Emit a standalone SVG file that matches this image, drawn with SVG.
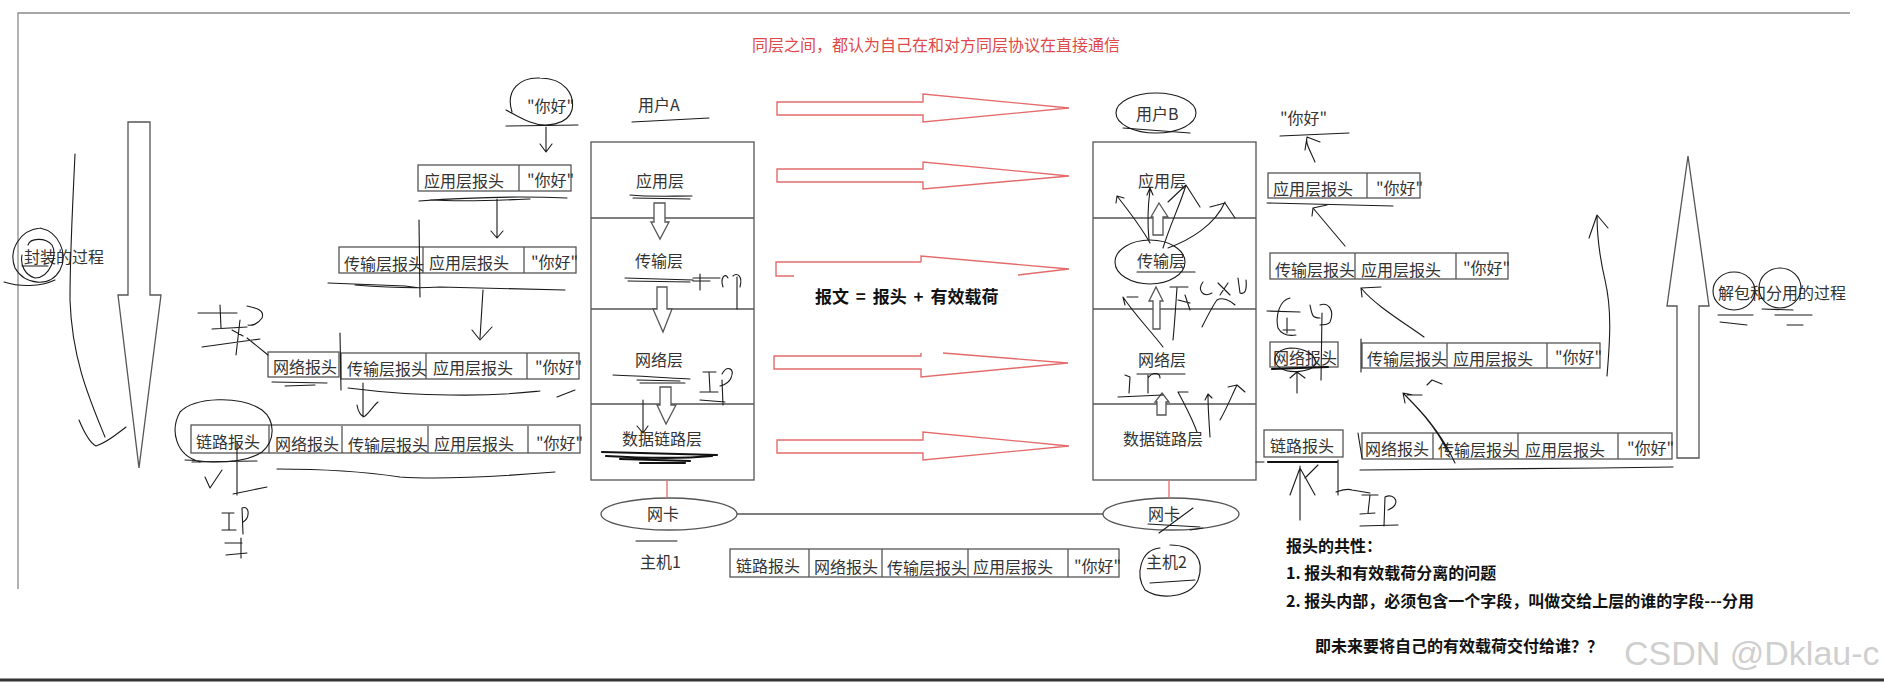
<svg xmlns="http://www.w3.org/2000/svg" width="1884" height="686" viewBox="0 0 1884 686">
<defs>
<style>
.t{font-family:"Noto Sans CJK SC","Microsoft YaHei",sans-serif;font-size:16px;fill:#333}
.bd{font-weight:bold;fill:#111}
.big{font-size:17px;word-spacing:3px}
.red{fill:#e04a4a}
.box{fill:none;stroke:#555;stroke-width:1.3}
.hl{fill:none;stroke:#555;stroke-width:1.3}
.ra{fill:none;stroke:#e46b6b;stroke-width:1.4}
.sc{fill:none;stroke:#1a1a1a;stroke-width:1.1;stroke-linecap:round;stroke-linejoin:round}
.thk{fill:none;stroke:#111;stroke-width:2.2;stroke-linecap:round}
.ha{fill:#fff;stroke:#555;stroke-width:1.3}
.wm{font-family:"Liberation Sans",Arial,sans-serif;font-size:34px;fill:#cfcfcf}
</style>
</defs>
<rect x="0" y="0" width="1884" height="686" fill="#fff"/>
<polyline points="18,589 18,13 1850,13" fill="none" stroke="#8a8a8a" stroke-width="1.3"/>
<line x1="0" y1="680" x2="1884" y2="680" stroke="#333" stroke-width="3"/>

<text class="t red" x="752" y="51">同层之间，都认为自己在和对方同层协议在直接通信</text>

<!-- Host A -->
<g id="hostA">
<rect class="box" x="591" y="142" width="163" height="338"/>
<line class="hl" x1="591" y1="218" x2="754" y2="218"/>
<line class="hl" x1="591" y1="309" x2="754" y2="309"/>
<line class="hl" x1="591" y1="404" x2="754" y2="404"/>
<text class="t" x="636" y="187">应用层</text>
<text class="t" x="635" y="267">传输层</text>
<text class="t" x="635" y="366">网络层</text>
<text class="t" x="622" y="445">数据链路层</text>
<path class="ha" d="M654,203 H665 V222 H669 L660,239 L651,222 H654 Z"/>
<path class="ha" d="M657,287 H667 V309 H672 L663,332 L653,309 H657 Z"/>
<path class="ha" d="M660,387 H671 V405 H676 L666,424 L657,405 H660 Z"/>
</g>
<g id="userA"><text class="t" x="638" y="111">用户A</text></g>

<!-- Host B -->
<g id="hostB">
<rect class="box" x="1093" y="142" width="163" height="338"/>
<line class="hl" x1="1093" y1="218" x2="1256" y2="218"/>
<line class="hl" x1="1093" y1="309" x2="1256" y2="309"/>
<line class="hl" x1="1093" y1="404" x2="1256" y2="404"/>
<text class="t" x="1138" y="187">应用层</text>
<text class="t" x="1137" y="267">传输层</text>
<text class="t" x="1138" y="366">网络层</text>
<text class="t" x="1123" y="445">数据链路层</text>
<path class="ha" d="M1159,203 L1168,217 H1163 V235 H1153 V217 H1151 Z"/>
<path class="ha" d="M1156,287 L1163,301 H1160 V329 H1153 V301 H1149 Z"/>
<path class="ha" d="M1162,393 L1169,402 H1166 V415 H1157 V402 H1155 Z"/>
</g>
<g id="userB">
<ellipse cx="1156" cy="113" rx="40" ry="20" class="sc"/>
<text class="t" x="1136" y="120">用户B</text>
</g>

<!-- NICs -->
<g id="nicA">
<ellipse class="box" cx="669" cy="514" rx="68" ry="16"/>
<text class="t" x="647" y="520">网卡</text>
<text class="t" x="640" y="568">主机1</text>
</g>
<g id="nicB">
<ellipse class="box" cx="1171" cy="514" rx="68" ry="16"/>
<text class="t" x="1148" y="520">网卡</text>
<text class="t" x="1146" y="568">主机2</text>
</g>

<!-- left packets -->
<g id="hello1"><text class="t" x="527" y="112">"你好"</text></g>
<g id="pA1">
<rect class="box" x="418" y="165" width="153" height="26"/>
<line class="hl" x1="519" y1="165" x2="519" y2="191"/>
<text class="t" x="424" y="187">应用层报头</text>
<text class="t" x="527" y="186">"你好"</text>
</g>
<g id="pA2">
<rect class="box" x="339" y="247" width="237" height="26"/>
<line class="hl" x1="423" y1="247" x2="423" y2="273"/>
<line class="hl" x1="524" y1="247" x2="524" y2="273"/>
<text class="t" x="344" y="270">传输层报头</text>
<text class="t" x="429" y="269">应用层报头</text>
<text class="t" x="531" y="268">"你好"</text>
</g>
<g id="pA3">
<rect class="box" x="268" y="352" width="71" height="25"/>
<rect class="box" x="341" y="353" width="238" height="26"/>
<line class="hl" x1="426" y1="353" x2="426" y2="379"/>
<line class="hl" x1="527" y1="353" x2="527" y2="379"/>
<text class="t" x="273" y="373">网络报头</text>
<text class="t" x="347" y="375">传输层报头</text>
<text class="t" x="433" y="374">应用层报头</text>
<text class="t" x="535" y="373">"你好"</text>
</g>
<g id="pA4">
<rect class="box" x="191" y="425" width="389" height="28"/>
<line class="hl" x1="269" y1="425" x2="269" y2="453"/>
<line class="hl" x1="342" y1="426" x2="342" y2="453"/>
<line class="hl" x1="428" y1="426" x2="428" y2="453"/>
<line class="hl" x1="528" y1="426" x2="528" y2="453"/>
<text class="t" x="196" y="448">链路报头</text>
<text class="t" x="275" y="450">网络报头</text>
<text class="t" x="348" y="451">传输层报头</text>
<text class="t" x="434" y="450">应用层报头</text>
<text class="t" x="536" y="449">"你好"</text>
</g>
<g id="pWire">
<rect class="box" x="730" y="549" width="389" height="28"/>
<line class="hl" x1="809" y1="549" x2="809" y2="577"/>
<line class="hl" x1="882" y1="549" x2="882" y2="577"/>
<line class="hl" x1="968" y1="549" x2="968" y2="577"/>
<line class="hl" x1="1068" y1="549" x2="1068" y2="577"/>
<text class="t" x="736" y="572">链路报头</text>
<text class="t" x="814" y="573">网络报头</text>
<text class="t" x="887" y="574">传输层报头</text>
<text class="t" x="973" y="573">应用层报头</text>
<text class="t" x="1074" y="572">"你好"</text>
</g>

<!-- right packets -->
<g id="hello2"><text class="t" x="1280" y="124">"你好"</text></g>
<g id="pB1">
<rect class="box" x="1268" y="173" width="152" height="25"/>
<line class="hl" x1="1367" y1="173" x2="1367" y2="198"/>
<text class="t" x="1273" y="195">应用层报头</text>
<text class="t" x="1376" y="194">"你好"</text>
</g>
<g id="pB2">
<rect class="box" x="1270" y="253" width="238" height="26"/>
<line class="hl" x1="1355" y1="253" x2="1355" y2="279"/>
<line class="hl" x1="1456" y1="253" x2="1456" y2="279"/>
<text class="t" x="1275" y="276">传输层报头</text>
<text class="t" x="1361" y="276">应用层报头</text>
<text class="t" x="1463" y="274">"你好"</text>
</g>
<g id="pB3a">
<rect class="box" x="1270" y="342" width="68" height="25"/>
<text class="t" x="1273" y="364">网络报头</text>
</g>
<g id="pB3b">
<rect class="box" x="1362" y="343" width="238" height="25"/>
<line class="hl" x1="1447" y1="343" x2="1447" y2="368"/>
<line class="hl" x1="1547" y1="343" x2="1547" y2="368"/>
<text class="t" x="1367" y="365">传输层报头</text>
<text class="t" x="1453" y="365">应用层报头</text>
<text class="t" x="1555" y="363">"你好"</text>
</g>
<g id="pB4a">
<rect class="box" x="1264" y="430" width="79" height="27"/>
<text class="t" x="1270" y="452">链路报头</text>
</g>
<g id="pB4b">
<rect class="box" x="1362" y="433" width="310" height="26"/>
<line class="hl" x1="1433" y1="433" x2="1433" y2="459"/>
<line class="hl" x1="1518" y1="433" x2="1518" y2="459"/>
<line class="hl" x1="1618" y1="433" x2="1618" y2="459"/>
<text class="t" x="1365" y="455">网络报头</text>
<text class="t" x="1438" y="456">传输层报头</text>
<text class="t" x="1525" y="456">应用层报头</text>
<text class="t" x="1627" y="454">"你好"</text>
</g>

<!-- big arrows and labels -->
<g id="encap">
<path class="hl" d="M128,122 H150 V295 H161 L139,468 L118,295 H128 Z"/>
<text class="t" x="24" y="263">封装的过程</text>
</g>
<g id="decap">
<path class="hl" d="M1688,156 L1709,306 H1699 V458 H1677 V306 H1667 Z"/>
<text class="t" x="1718" y="299">解包和分用的过程</text>
</g>
<g id="msg"><text class="t bd big" x="815" y="303">报文 = 报头 + 有效载荷</text></g>
<g id="notes">
<text class="t bd" x="1286" y="552">报头的共性：</text>
<text class="t bd" x="1286" y="579">1. 报头和有效载荷分离的问题</text>
<text class="t bd" x="1286" y="607">2. 报头内部，必须包含一个字段，叫做交给上层的谁的字段---分用</text>
<text class="t bd" x="1315" y="652">即未来要将自己的有效载荷交付给谁？？</text>
</g>
<text class="wm" x="1624" y="665">CSDN @Dklau-c</text>

<!-- connectors -->
<g id="connectors">
<line x1="667" y1="480" x2="667" y2="498" stroke="#e46b6b" stroke-width="1.3"/>
<line x1="1169" y1="480" x2="1169" y2="498" stroke="#e46b6b" stroke-width="1.3"/>
<line class="hl" x1="737" y1="514" x2="1103" y2="514"/>
<!-- red peer arrows -->
<path class="ra" d="M777,102 H923 V94 L1069,108 L923,122 V115 H777 Z"/>
<path class="ra" d="M777,169 H923 V162 L1069,176 L923,189 V182 H777 Z"/>
<path class="ra" d="M921,262 H776 V276 H794 M921,262 V256 L1069,269 L1018,275"/>
<path class="ra" d="M943,353 L1068,363 L921,377 V369 H774 V356 H921 V353"/>
<path class="ra" d="M777,440 H923 V432 L1069,446 L923,460 V453 H777 Z"/>
<!-- left flow -->
<path class="sc" d="M512,112 C505,90 520,77 540,78 C565,78 575,95 572,110 C568,125 545,128 530,122 C520,118 512,113 506,110"/>
<path class="sc" d="M506,126 L578,125"/>
<path class="sc" d="M546,127 L546,151 M540,144 L546,152 L552,144"/>
<path class="sc" d="M419,201 C460,198 520,196 567,198 M430,200 C470,202 500,200 530,199"/>
<path class="sc" d="M497,199 L497,237 M491,231 L497,238 L503,231"/>
<path class="sc" d="M419,220 L420,297"/>
<path class="sc" d="M328,283 L405,286 L420,288 M355,285 C380,287 410,289 440,287 L565,290"/>
<path class="sc" d="M483,290 C482,305 481,320 480,338 M472,330 L480,340 L492,327"/>
<path class="sc" d="M340,333 L341,390"/>
<path class="sc" d="M272,382 L327,383 M285,386 L315,385"/>
<path class="sc" d="M348,388 C380,392 420,395 450,395 C500,396 530,392 540,391 M557,397 L575,390"/>
<path class="sc" d="M363,383 L363,417 M357,405 C358,412 362,418 365,416 C370,412 374,405 378,402"/>
<path class="sc" d="M277,469 C320,469 360,471 400,477 C430,479 480,478 555,472"/>
<path class="sc" d="M200,462 C175,455 170,430 180,412 C195,397 240,395 262,410 C275,420 276,440 262,452 C250,460 230,462 215,462 C205,462 195,460 185,460"/>
<path class="sc" d="M192,462 L257,461 M237,443 L237,495 M233,494 L267,487 M205,477 L210,488 L222,470"/>
<path class="sc" d="M222,513 L234,513 M229,513 L229,530 M222,530 L236,530 M242,508 L243,534 M242,508 C250,505 250,518 243,522 M225,543 L242,543 M226,555 L247,553 M241,538 L241,558"/>
<path class="sc" d="M198,313 L237,313 M220,305 L221,328 M212,329 L247,327 M247,306 C256,308 265,310 262,318 C258,324 252,326 248,325 M240,320 L236,355 M202,347 L260,339 M247,338 L268,355 M232,330 L243,336"/>
<path class="sc" d="M75,154 C73,200 70,250 70,300 C72,360 90,400 105,437 M79,420 C84,432 90,443 96,446 C108,442 118,433 126,427"/>
<path class="sc" d="M40,228 C20,230 8,250 15,268 C25,285 50,288 60,270 C68,255 60,232 40,228 M28,245 C30,238 45,237 52,245 C58,255 50,278 35,278 C25,275 20,265 22,255 M4,282 C20,287 40,287 55,280 M22,266 L48,266"/>
<!-- host A marks -->
<path class="sc" d="M632,122 L709,118"/>
<path class="sc" d="M630,195 C650,197 670,196 692,196 M633,198 L690,199"/>
<path class="sc" d="M625,278 L693,280 M628,281 L690,282 M693,278 L720,278 M700,274 L700,290 M693,281 L710,281 M723,287 C720,278 725,272 728,278 M733,276 C737,272 743,276 740,287 M737,277 L737,309"/>
<path class="sc" d="M613,375 C640,376 670,378 690,379 M637,380 L680,381 M640,383 L685,383"/>
<path class="sc" d="M703,372 L716,372 M709,372 L710,391 M700,392 L718,392 M722,374 C727,365 735,368 731,378 C729,383 724,385 720,386 M722,380 L723,405 M700,400 L725,402"/>
<path class="sc" d="M643,400 L643,432 M637,426 L643,433 L648,426"/>
<path class="thk" d="M602,452 L717,455 M606,456 C640,458 680,459 712,456 M620,459 L690,461 M640,463 L685,463"/>
<path class="sc" d="M636,541 L677,541"/>
<!-- host B marks -->
<path class="sc" d="M1123,128 L1190,133"/>
<path class="sc" d="M1150,243 C1140,225 1128,210 1117,196 M1116,203 L1117,196 L1124,198"/>
<path class="sc" d="M1149,240 C1147,220 1148,205 1150,190 M1147,195 L1150,188 L1153,195"/>
<path class="sc" d="M1163,248 C1170,225 1180,205 1186,185 M1168,202 L1186,185 L1200,207"/>
<path class="sc" d="M1168,248 C1190,240 1215,225 1225,202 M1210,207 L1225,203 L1235,218"/>
<ellipse class="sc" cx="1150" cy="262" rx="35" ry="22"/>
<path class="sc" d="M1137,272 L1195,272"/>
<path class="sc" d="M1163,347 C1150,330 1135,315 1123,297 M1123,297 L1125,305 M1127,297 L1138,297"/>
<path class="sc" d="M1173,340 C1175,320 1176,300 1177,288 M1170,287 L1188,287 M1178,300 L1190,303 M1185,295 L1190,310"/>
<path class="sc" d="M1202,327 C1208,315 1213,305 1217,300 C1222,297 1230,300 1235,305"/>
<path class="sc" d="M1203,282 C1197,290 1203,298 1212,293 M1218,283 L1230,295 M1228,283 L1220,295 M1238,278 L1240,293 C1245,295 1247,290 1246,280"/>
<path class="sc" d="M1137,374 L1185,374"/>
<path class="sc" d="M1118,397 L1163,395 M1125,375 L1130,377 L1129,393 M1148,375 L1148,393 M1148,378 C1152,372 1160,372 1160,378"/>
<path class="sc" d="M1197,432 C1192,418 1185,405 1178,392 M1178,392 L1188,392 M1210,437 C1209,420 1208,410 1208,395 M1205,400 L1208,394 L1212,398 M1220,420 C1227,408 1232,395 1237,385 M1228,387 L1237,385 L1245,392"/>
<!-- right flow -->
<path class="sc" d="M1280,136 L1349,133"/>
<path class="sc" d="M1315,162 C1310,150 1305,143 1307,137 M1305,150 L1307,137 L1320,142"/>
<path class="sc" d="M1267,203 L1393,206"/>
<path class="sc" d="M1345,246 L1313,208 M1312,216 L1313,208 L1327,205"/>
<path class="sc" d="M1424,337 C1400,320 1375,305 1361,288 M1362,297 L1361,288 L1381,287"/>
<path class="sc" d="M1267,311 L1300,312 M1290,298 C1280,300 1275,315 1278,328 C1282,335 1290,336 1296,335 M1287,318 L1287,333 M1283,330 L1295,330 M1310,305 C1312,315 1312,318 1320,318 M1320,305 C1328,302 1335,310 1330,322 C1328,325 1322,325 1320,325 M1322,313 L1321,380"/>
<path class="sc" d="M1280,368 C1270,360 1275,350 1290,348 C1305,348 1318,355 1315,365 C1310,372 1290,374 1280,368"/>
<path class="thk" d="M1272,369 L1328,367"/>
<path class="sc" d="M1297,393 L1297,372 M1290,378 L1297,372 L1305,378"/>
<path class="sc" d="M1361,339 L1361,372"/>
<path class="sc" d="M1455,463 C1440,430 1420,410 1403,393 M1448,452 C1435,425 1415,405 1403,393 M1403,393 L1405,403 M1403,393 L1413,395 M1407,395 L1422,395 M1427,385 L1432,380 L1442,384"/>
<path class="sc" d="M1256,462 L1264,462"/>
<path class="thk" d="M1268,462 L1337,462"/>
<path class="sc" d="M1300,520 L1300,466 M1290,495 L1300,468 L1315,495 M1305,478 L1318,465"/>
<path class="sc" d="M1338,460 L1338,495 M1336,492 C1342,490 1347,488 1352,490 L1370,493"/>
<path class="sc" d="M1362,495 L1378,495 M1370,495 L1368,513 M1360,514 L1375,513 M1385,497 L1384,526 M1385,497 C1395,492 1402,505 1388,510 M1360,526 L1398,525"/>
<path class="sc" d="M1358,433 L1362,458"/>
<path class="sc" d="M1360,470 L1600,468 L1673,467"/>
<path class="sc" d="M1148,524 L1200,527 M1159,533 L1193,508 M1190,530 L1203,528"/>
<path class="sc" d="M1160,548 C1140,550 1135,575 1145,590 C1160,600 1190,598 1198,580 C1205,560 1195,545 1170,545 M1150,583 L1195,580"/>
<path class="sc" d="M1607,376 C1610,340 1612,310 1605,280 C1598,250 1597,230 1597,215 M1589,238 L1597,215 L1608,228"/>
<ellipse class="sc" cx="1734" cy="291" rx="21" ry="19"/>
<ellipse class="sc" cx="1780" cy="288" rx="21" ry="20"/>
<path class="sc" d="M1718,315 L1753,315 M1720,322 L1747,325 M1775,315 L1812,315 M1787,325 L1803,325 M1762,309 L1793,310"/>
</g>
</svg>
